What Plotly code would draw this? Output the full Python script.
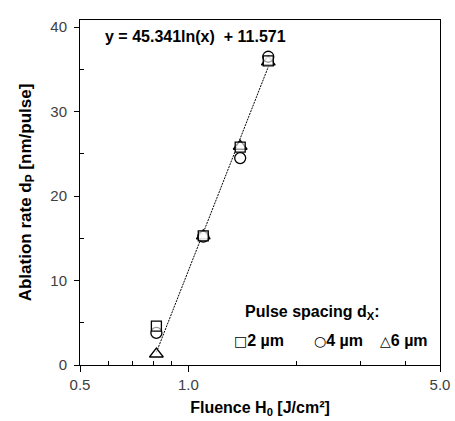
import plotly.graph_objects as go

fluence = [0.815, 1.10, 1.393, 1.667]
rate_2um = [4.6, 15.3, 25.8, 36.0]
rate_4um = [3.8, 15.2, 24.5, 36.5]
rate_6um = [1.3, 15.3, 25.9, 35.9]
trend_x = [0.815, 1.667]
trend_y = [1.5, 35.3]

x_tickvals = [0.5, 1.0, 5.0]
x_ticktext = ["0.5", "1.0", "5.0"]
x_minor = [0.6, 0.7, 0.8, 0.9, 2, 3, 4]

FONT = "Liberation Sans, Arial, sans-serif"
SYM = "DejaVu Sans"

fig = go.Figure()
fig.add_trace(go.Scatter(x=trend_x, y=trend_y, mode="lines",
                         line=dict(color="black", width=1, dash="2px,1px"),
                         showlegend=False, hoverinfo="skip"))
for vals, sym, sz in [(rate_6um, "triangle-up", 12),
                      (rate_4um, "circle", 11),
                      (rate_2um, "square", 10)]:
    fig.add_trace(go.Scatter(x=fluence, y=vals, mode="markers",
                             marker=dict(symbol=sym, size=sz,
                                         color="rgba(255,255,255,0.6)",
                                         line=dict(color="black", width=1.3)),
                             showlegend=False))

fig.update_layout(
    width=455, height=421,
    margin=dict(l=80, r=15, t=20, b=56),
    paper_bgcolor="white", plot_bgcolor="white",
    font=dict(family=FONT, size=15, color="#404040"),
    xaxis=dict(type="log", range=[-0.30103, 0.69897], automargin=False,
               tickvals=x_tickvals, ticktext=x_ticktext,
               ticks="outside", ticklen=6, tickwidth=1, tickcolor="black",
               showline=True, linecolor="black", linewidth=1, mirror=True,
               showgrid=False, zeroline=False,
               minor=dict(tickvals=x_minor, ticks="inside", ticklen=4, tickcolor="black", showgrid=False),
               title=dict(text="<b>Fluence H<sub>0</sub> [J/cm²]</b>", font=dict(size=16, color="black"), standoff=9),
               tickfont=dict(size=15, color="#404040")),
    yaxis=dict(range=[0, 40.85], automargin=False,
               tickvals=[0, 10, 20, 30, 40],
               ticks="outside", ticklen=5, tickwidth=1, tickcolor="black",
               ticklabelstandoff=4,
               showline=True, linecolor="black", linewidth=1, mirror=True,
               showgrid=False, zeroline=False,
               minor=dict(tickvals=[5, 15, 25, 35], ticks="inside", ticklen=4, tickcolor="black", showgrid=False),
               title=dict(text="<b>Ablation rate d<sub>P</sub> [nm/pulse]</b>", font=dict(size=17, color="black"), standoff=14),
               tickfont=dict(size=15, color="#404040")),
)

ann_font = dict(size=16, color="black", family=FONT)
fig.add_annotation(xref="x domain", yref="y domain", x=0.322, y=0.951,
                   text="<b>y = 45.341ln(x)  + 11.571</b>", showarrow=False,
                   font=ann_font, xanchor="center", yanchor="middle")
fig.add_annotation(xref="x domain", yref="y domain", x=0.453, y=0.151,
                   text="<b>Pulse spacing d<sub>X</sub>:</b>", showarrow=False,
                   font=ann_font, xanchor="left", yanchor="middle")
legend_items = [("□", "2 µm", 0.422), ("○", "4 µm", 0.644), ("△", "6 µm", 0.828)]
for sym, lab, xp in legend_items:
    fig.add_annotation(xref="x domain", yref="y domain", x=xp, y=0.072,
                       text=f"<span style='font-family:{SYM};font-weight:normal;font-size:14px'>{sym}</span><b>{lab}</b>",
                       showarrow=False, font=ann_font, xanchor="left", yanchor="middle")

fig.write_html("out.html")
